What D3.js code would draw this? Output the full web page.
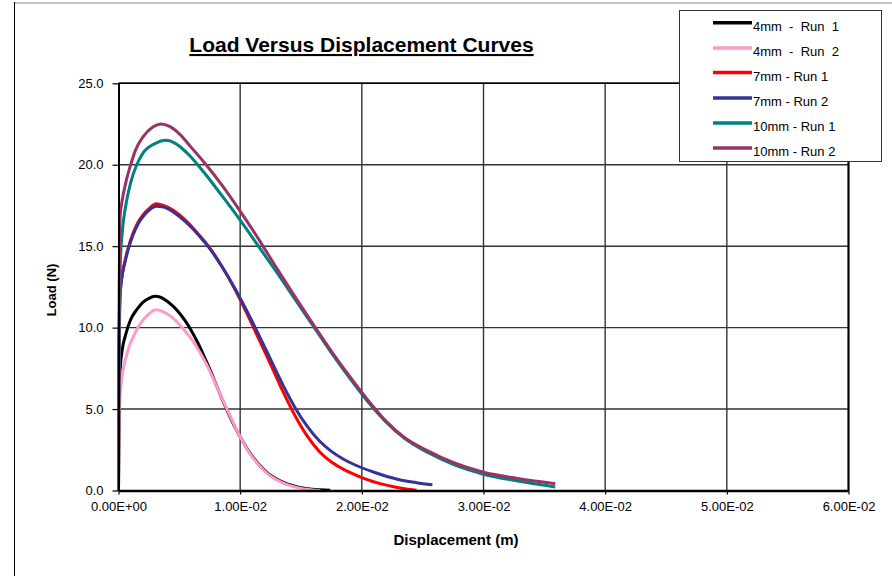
<!DOCTYPE html>
<html>
<head>
<meta charset="utf-8">
<script src="https://cdn.jsdelivr.net/npm/d3@7"></script>
<style>
  html, body { margin: 0; padding: 0; background: #fff; }
  svg { display: block; font-family: "Liberation Sans", Arial, sans-serif; }
</style>
</head>
<body>
<svg id="chart" width="892" height="576"></svg>
<script>
// displacement (m), load (N)
const run4mm1 = [[0,0],[0.00003,4.5],[0.0001,7.0],[0.0003,8.6],[0.0006,9.6],[0.001,10.5],[0.0015,11.1],[0.002,11.55],[0.0025,11.8],[0.003,11.92],[0.0035,11.85],[0.004,11.62],[0.0045,11.3],[0.005,10.9],[0.0055,10.4],[0.006,9.8],[0.0065,9.1],[0.007,8.3],[0.0075,7.45],[0.008,6.55],[0.0085,5.65],[0.009,4.8],[0.0095,4.0],[0.01,3.3],[0.0105,2.65],[0.011,2.1],[0.0116,1.55],[0.0122,1.1],[0.013,0.7],[0.0138,0.42],[0.0148,0.2],[0.0159,0.08],[0.0174,0.02]];
const run4mm2 = [[0,0],[0.00003,3.0],[0.00008,5.1],[0.0002,6.4],[0.0004,7.5],[0.00063,8.2],[0.0009,8.9],[0.0012,9.4],[0.0016,10.0],[0.002,10.44],[0.0025,10.85],[0.0031,11.1],[0.0036,11.0],[0.0042,10.75],[0.0048,10.35],[0.0054,9.85],[0.006,9.3],[0.0066,8.6],[0.0072,7.8],[0.0078,6.85],[0.0084,5.85],[0.009,4.85],[0.0095,4.05],[0.01,3.3],[0.0105,2.62],[0.011,2.05],[0.0116,1.5],[0.0122,1.05],[0.013,0.65],[0.0138,0.37],[0.0148,0.16],[0.0158,0.05],[0.0166,0.0]];
const run7mm1 = [[0,0],[0.00002,6],[0.00007,10],[0.00012,12.0],[0.00025,13.0],[0.0005,14.0],[0.0008,14.9],[0.0012,15.8],[0.0016,16.45],[0.002,16.9],[0.0025,17.3],[0.0031,17.6],[0.0037,17.5],[0.0045,17.2],[0.0055,16.6],[0.0065,15.8],[0.0075,14.9],[0.0085,13.75],[0.0095,12.45],[0.0105,10.95],[0.0115,9.35],[0.0125,7.75],[0.0135,6.1],[0.0145,4.6],[0.0155,3.35],[0.0165,2.4],[0.0175,1.75],[0.0185,1.3],[0.0195,0.95],[0.0205,0.65],[0.0215,0.42],[0.0228,0.2],[0.0245,0.02]];
const run7mm2 = [[0,0],[0.00002,5],[0.00007,9.5],[0.00012,11.8],[0.00025,12.9],[0.0005,13.9],[0.0008,14.8],[0.0012,15.7],[0.0016,16.35],[0.002,16.8],[0.0025,17.2],[0.0031,17.45],[0.0037,17.4],[0.0045,17.1],[0.0055,16.5],[0.0065,15.75],[0.0075,14.85],[0.0085,13.75],[0.0095,12.5],[0.0105,11.1],[0.0115,9.6],[0.0125,8.05],[0.0135,6.5],[0.0145,5.1],[0.0155,3.95],[0.0165,3.05],[0.0175,2.4],[0.0185,1.92],[0.0195,1.55],[0.021,1.12],[0.023,0.68],[0.0245,0.48],[0.0258,0.35]];
const run10mm1 = [[0,0],[0.00002,6],[0.00008,11],[0.00015,14],[0.0003,15.8],[0.0006,17.5],[0.001,18.9],[0.0015,20.0],[0.002,20.7],[0.003,21.3],[0.0039,21.5],[0.0047,21.3],[0.0058,20.6],[0.007,19.55],[0.0085,18.1],[0.01,16.6],[0.0115,15.0],[0.013,13.4],[0.0145,11.75],[0.016,10.1],[0.0175,8.45],[0.019,6.9],[0.0205,5.45],[0.022,4.2],[0.0235,3.2],[0.0255,2.3],[0.0275,1.6],[0.03,1.0],[0.0327,0.6],[0.0359,0.22]];
const run10mm2 = [[0,0],[0.00002,8],[0.00007,13.5],[0.00013,16.8],[0.0003,17.8],[0.0006,18.9],[0.001,20.0],[0.0014,20.9],[0.002,21.7],[0.0028,22.3],[0.0035,22.5],[0.0042,22.35],[0.005,21.9],[0.006,21.05],[0.0072,20.0],[0.0085,18.75],[0.01,17.15],[0.0115,15.45],[0.013,13.65],[0.0145,11.9],[0.016,10.2],[0.0175,8.55],[0.019,7.0],[0.0205,5.55],[0.022,4.25],[0.0235,3.25],[0.0255,2.4],[0.0275,1.72],[0.03,1.12],[0.0327,0.75],[0.0359,0.42]];

const seriesNames = ['4mm  -  Run  1', '4mm  -  Run  2', '7mm - Run 1', '7mm - Run 2', '10mm - Run 1', '10mm - Run 2'];
const seriesData = [run4mm1, run4mm2, run7mm1, run7mm2, run10mm1, run10mm2];
const seriesColors = ['#000000', '#ff99cc', '#ff0000', '#333399', '#008080', '#993366'];

const xTicks = [0, 0.01, 0.02, 0.03, 0.04, 0.05, 0.06];
const yTicks = [0, 5, 10, 15, 20, 25];

const svg = d3.select('#chart');
const margin = { top: 83.3, left: 118.5, right: 892 - 848.5, bottom: 576 - 490.5 };
const width = 892 - margin.left - margin.right;
const height = 576 - margin.top - margin.bottom;

// chart area frame (runs off the right and bottom edges)
svg.append('line').attr('x1', 14.5).attr('x2', 892).attr('y1', 3).attr('y2', 3)
  .attr('stroke', '#c4c4c4').attr('stroke-width', 2);
svg.append('line').attr('x1', 14.5).attr('x2', 14.5).attr('y1', 2).attr('y2', 576)
  .attr('stroke', '#000').attr('stroke-width', 1);

const g = svg.append('g').attr('transform', `translate(${margin.left},${margin.top})`);

const x = d3.scaleLinear().domain([0, 0.06]).range([0, width]);
const y = d3.scaleLinear().domain([0, 25]).range([height, 0]);

const sciFormat = d => {
  const [m, e] = d.toExponential(2).split('e');
  const sign = e[0] === '-' ? '-' : '+';
  return m + 'E' + sign + String(Math.abs(+e)).padStart(2, '0');
};

// gridlines
g.append('g').selectAll('line').data(yTicks.slice(1)).enter().append('line')
  .attr('x1', 0).attr('x2', width).attr('y1', d => y(d)).attr('y2', d => y(d))
  .attr('stroke', '#333').attr('stroke-width', 1.4);
g.append('g').selectAll('line').data(xTicks.slice(1)).enter().append('line')
  .attr('x1', d => x(d)).attr('x2', d => x(d)).attr('y1', 0).attr('y2', height)
  .attr('stroke', '#333').attr('stroke-width', 1.4);

// curves
const line = d3.line().x(d => x(d[0])).y(d => y(d[1])).curve(d3.curveMonotoneX);
g.append('g').selectAll('path').data(seriesData).enter().append('path')
  .attr('d', line)
  .attr('fill', 'none')
  .attr('stroke', (d, i) => seriesColors[i])
  .attr('stroke-width', 3)
  .attr('stroke-linejoin', 'round');

// axes
const yAxis = g.append('g')
  .call(d3.axisLeft(y).tickValues(yTicks).tickFormat(d3.format('.1f')).tickSize(6).tickPadding(9).tickSizeOuter(0));
yAxis.select('.domain').attr('stroke-width', 2);
yAxis.selectAll('.tick line').attr('stroke-width', 1.2);
yAxis.selectAll('text').attr('font-size', 13).attr('fill', '#000')
  .attr('font-family', '"Liberation Sans", Arial, sans-serif');

const xAxis = g.append('g').attr('transform', `translate(0,${height})`)
  .call(d3.axisBottom(x).tickValues(xTicks).tickFormat(sciFormat).tickSize(4).tickPadding(7).tickSizeOuter(0));
xAxis.select('.domain').attr('stroke-width', 2.5);
xAxis.selectAll('.tick line').attr('stroke-width', 1.2);
xAxis.selectAll('text').attr('font-size', 13).attr('fill', '#000')
  .attr('font-family', '"Liberation Sans", Arial, sans-serif');

// plot frame top and right
g.append('line').attr('x1', 0).attr('x2', width).attr('y1', 0).attr('y2', 0)
  .attr('stroke', '#000').attr('stroke-width', 1.5);
g.append('line').attr('x1', width).attr('x2', width).attr('y1', 0).attr('y2', height)
  .attr('stroke', '#000').attr('stroke-width', 2);

// titles
svg.append('text')
  .attr('x', 361.5).attr('y', 52)
  .attr('text-anchor', 'middle')
  .attr('font-size', 21).attr('font-weight', 'bold')
  .style('text-decoration', 'underline')
  .text('Load Versus Displacement Curves');

svg.append('text')
  .attr('x', 456).attr('y', 545)
  .attr('text-anchor', 'middle')
  .attr('font-size', 15).attr('font-weight', 'bold')
  .text('Displacement (m)');

svg.append('text')
  .attr('transform', 'translate(56,290) rotate(-90)')
  .attr('text-anchor', 'middle')
  .attr('font-size', 13).attr('font-weight', 'bold')
  .text('Load (N)');

// legend
const legend = svg.append('g');
legend.append('rect')
  .attr('x', 679.5).attr('y', 10.5).attr('width', 202).attr('height', 151)
  .attr('fill', '#fff').attr('stroke', '#333').attr('stroke-width', 1);
const rowY = [22.7, 48, 72.5, 98, 123, 148];
const item = legend.selectAll('.item').data(seriesNames).enter().append('g')
  .attr('class', 'item')
  .attr('transform', (d, i) => `translate(0,${rowY[i]})`);
item.append('line')
  .attr('x1', 713).attr('x2', 752).attr('y1', 0).attr('y2', 0)
  .attr('stroke', (d, i) => seriesColors[i]).attr('stroke-width', 3.5);
item.append('text')
  .attr('x', 753).attr('y', 8)
  .attr('font-size', 13)
  .style('white-space', 'pre')
  .text(d => d);
</script>
</body>
</html>
